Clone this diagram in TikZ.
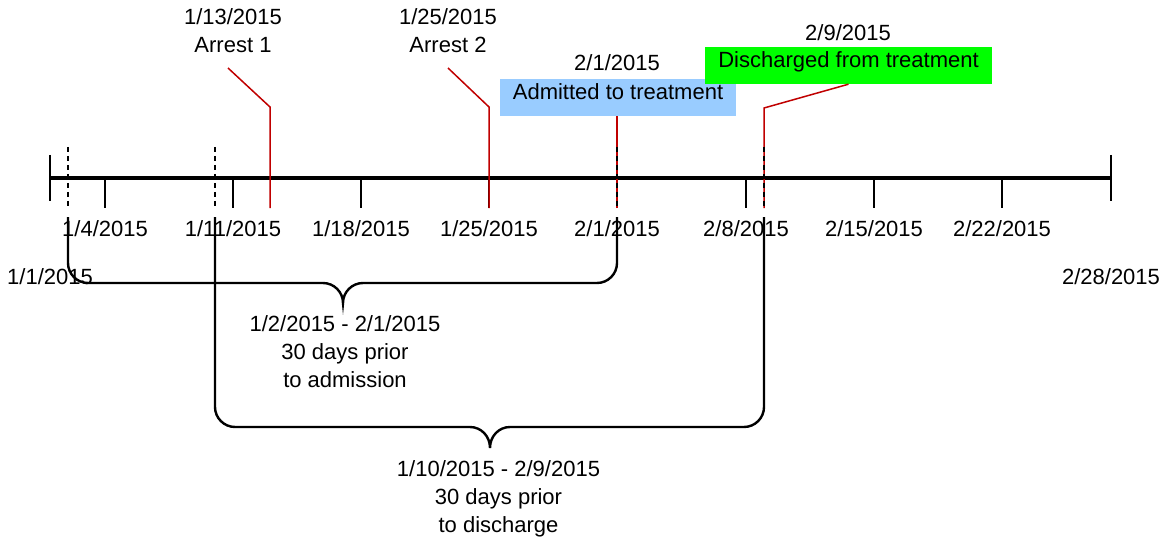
\documentclass[tikz,border=0pt]{standalone}
\usepackage{fontspec}
\setmainfont{Liberation Sans}
\definecolor{darkred}{RGB}{192,0,0}
\definecolor{admblue}{RGB}{153,204,255}
\definecolor{disgreen}{RGB}{0,255,0}

\begin{document}
\begin{tikzpicture}[x=1pt, y=-1pt, font=\fontsize{22}{28}\selectfont,
  leader/.style={draw=darkred, line width=1.5},
  guide/.style={dash pattern=on 5pt off 4pt, line width=1.5},
  brace/.style={line width=2.4},
  box/.style={inner xsep=0, inner ysep=0, text height=21pt, text depth=16pt}]
\useasboundingbox (0,0) rectangle (1169,540);
% Axis
\coordinate (start) at (50,178);
\coordinate (end) at (1111,178);
\draw[line width=4.5] (start)--(end);
\draw[line width=1.8] (50,155)--(50,201);
\draw[line width=1.8] (1111,155)--(1111,201);
\foreach \x/\m/\d in {105/1/4, 233/1/11, 361/1/18, 489/1/25, 617/2/1, 746/2/8, 874/2/15, 1002/2/22}{
  \draw[line width=1.8] (\x,178)--(\x,208);
  \node (t\m-\d) at (\x,229) {\m/\d/2015};
}
\node (first) at (50,277) {1/1/2015};
\node (last) at (1111,277) {2/28/2015};
% Events
\node[align=center] (arr1) at (233,30.5) {1/13/2015\\Arrest 1};
\node[align=center] (arr2) at (448,30.5) {1/25/2015\\Arrest 2};
\node (admdate) at (617,63) {2/1/2015};
\node[box, fill=admblue, minimum width=236pt] (adm) at (618,97.5) {Admitted to treatment};
\node (disdate) at (848,32.5) {2/9/2015};
\node[box, fill=disgreen, minimum width=287pt] (dis) at (848.5,65.5) {Discharged from treatment};
\coordinate (a1) at (270,208);
\coordinate (a1k) at (270,107);
\coordinate (a1e) at (228,68);
\coordinate (a2) at (489,208);
\coordinate (a2k) at (489,107);
\coordinate (a2e) at (448,68);
\coordinate (ad) at (617,208);
\coordinate (dd) at (764,208);
\coordinate (ddk) at (764,108);
% Leaders
\draw[leader] (a1)--(a1k)--(a1e);
\draw[leader] (a2)--(a2k)--(a2e);
\draw[leader] (ad)--(ad |- adm.south);
\draw[leader] (dd)--(ddk)--(dis.south);
% Windows
\foreach \x in {68,215,617,764}
  \draw[guide] (\x,147)--(\x,208);
\coordinate (w1l) at (68,217);
\coordinate (w1r) at (617,217);
\coordinate (w1t) at (343,303);
\coordinate (w2l) at (215,217);
\coordinate (w2r) at (764,217);
\coordinate (w2t) at (490,448);
\draw[brace] (w1l)--(68,263) .. controls (68,274) and (77,283) .. (88,283)--(323,283)
  .. controls (334,283) and (343,292) .. (w1t) .. controls (343,292) and (352,283) .. (363,283)
  --(597,283) .. controls (608,283) and (617,274) .. (617,263)--(w1r);
\draw[brace] (w2l)--(215,407) .. controls (215,418) and (224,427) .. (235,427)--(470,427)
  .. controls (481,427) and (490,436) .. (w2t) .. controls (490,436) and (499,427) .. (510,427)
  --(744,427) .. controls (755,427) and (764,418) .. (764,407)--(w2r);
\node[align=center] (w1lab) at (345,352) {1/2/2015 - 2/1/2015\\30 days prior\\to admission};
\node[align=center] (w2lab) at (498.5,499) {1/10/2015 - 2/9/2015\\30 days prior\\to discharge};
\end{tikzpicture}
\end{document}
